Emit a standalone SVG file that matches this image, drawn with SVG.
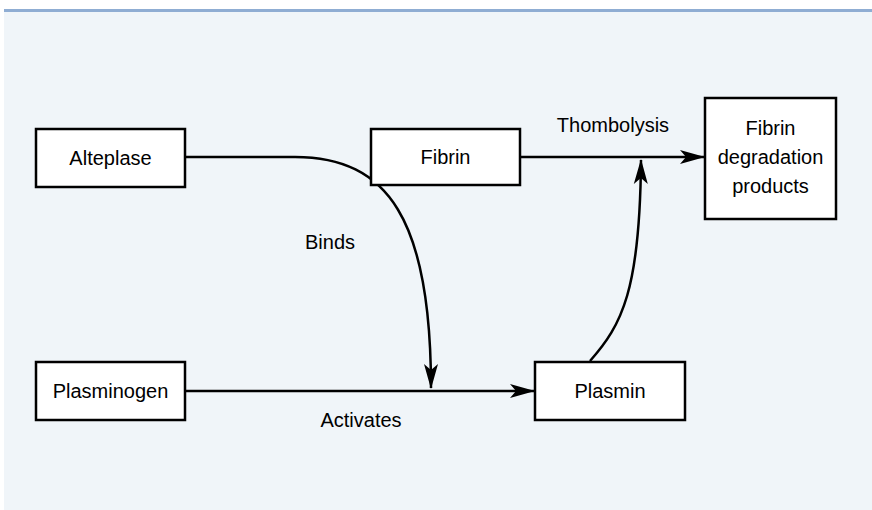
<svg xmlns="http://www.w3.org/2000/svg" width="872" height="510" viewBox="0 0 872 510">
<style>
.box{fill:#fff;stroke:#000;stroke-width:2.5}
.t{font-family:"Liberation Sans",Arial,sans-serif;font-size:20px;fill:#000;text-anchor:middle;dominant-baseline:central}
.c{fill:none;stroke:#000;stroke-width:2.5}
</style>
<defs>
<marker id="ah" markerUnits="userSpaceOnUse" viewBox="-26 -8 28 16" refX="0" refY="0" markerWidth="28" markerHeight="16" orient="auto">
<path d="M1,0 L-24,-7 L-18,0 L-24,7 Z" fill="#000"/>
</marker>
</defs>
<rect x="0" y="0" width="872" height="510" fill="#fff"/>
<rect x="4" y="10" width="868" height="500" fill="#f0f5f9"/>
<line x1="4" y1="10.5" x2="872" y2="10.5" stroke="#8fadd3" stroke-width="3"/>
<g id="connectors">
<path class="c" d="M185,157 H295 C388,157 431,220 431,388" marker-end="url(#ah)"/>
<path class="c" d="M185,391 H534" marker-end="url(#ah)"/>
<path class="c" d="M520,157 H704" marker-end="url(#ah)"/>
<path class="c" d="M590,361 C622,325 640,290 641,160" marker-end="url(#ah)"/>
</g>
<g id="alteplase"><rect class="box" x="36" y="129" width="149" height="58"/><text class="t" x="110.5" y="158">Alteplase</text></g>
<g id="fibrin"><rect class="box" x="371" y="129" width="149" height="56"/><text class="t" x="445.5" y="157">Fibrin</text></g>
<g id="fdp"><rect class="box" x="705" y="98" width="131" height="121"/><text class="t" x="770.5" y="128">Fibrin</text><text class="t" x="770.5" y="157">degradation</text><text class="t" x="770.5" y="186">products</text></g>
<g id="plasminogen"><rect class="box" x="36" y="362" width="149" height="58"/><text class="t" x="110.5" y="391">Plasminogen</text></g>
<g id="plasmin"><rect class="box" x="535" y="362" width="150" height="58"/><text class="t" x="610" y="391">Plasmin</text></g>
<g id="labels">
<text class="t" x="330" y="242">Binds</text>
<text class="t" x="361" y="420">Activates</text>
<text class="t" x="613" y="125">Thombolysis</text>
</g>
</svg>
